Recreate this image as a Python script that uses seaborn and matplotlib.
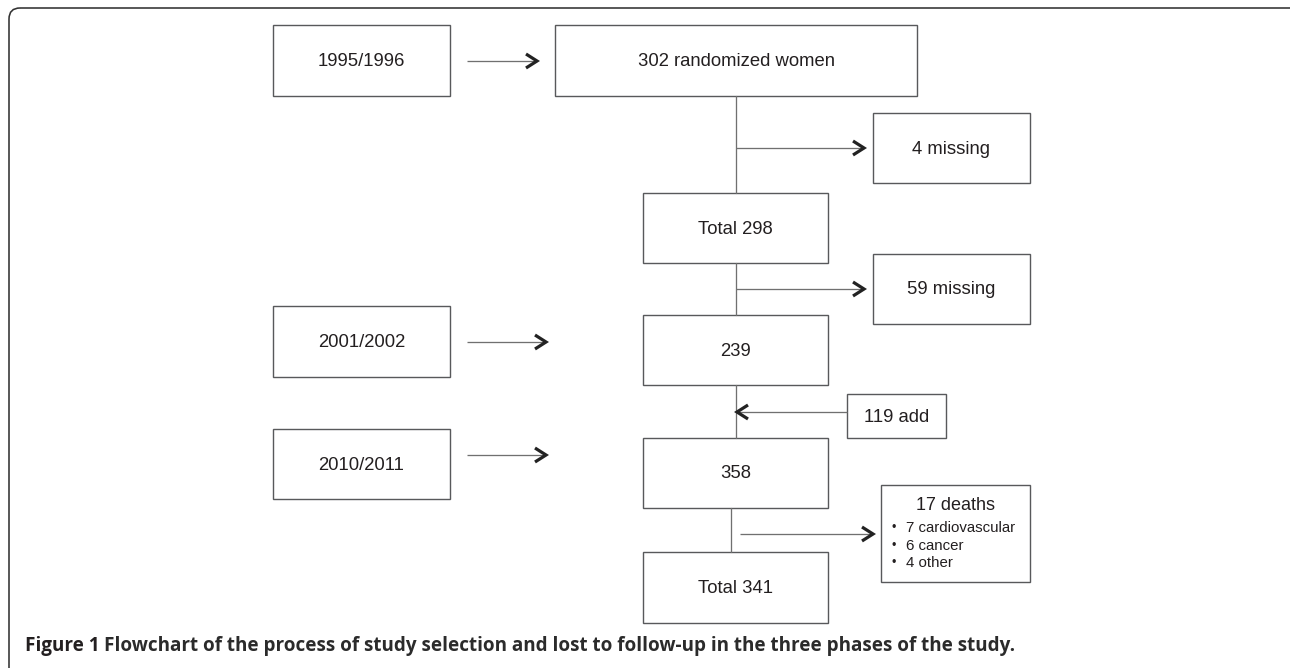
import matplotlib

matplotlib.use("Agg")
import matplotlib.pyplot as plt
import seaborn as sns
from matplotlib.patches import FancyBboxPatch, Rectangle

sns.set_theme(style="white", context="paper")
plt.rcParams["font.family"] = ["Liberation Sans", "DejaVu Sans"]

# chart content
phases = ["1995/1996", "2001/2002", "2010/2011"]
cohort = ["302 randomized women", "Total 298", "239", "358", "Total 341"]
side_notes = ["4 missing", "59 missing", "119 add"]
deaths_total = 17
death_causes = ["cardiovascular", "cancer", "other"]
death_counts = [7, 6, 4]
caption_label = "Figure 1"
caption_text = ("Flowchart of the process of study selection and lost to follow-up "
                "in the three phases of the study.")

# layout in pixel units (x0, y0, x1, y1)
phase_boxes = [(273, 25, 450, 96), (273, 306, 450, 377), (273, 429, 450, 499)]
cohort_boxes = [(555, 25, 917, 96), (643, 193, 828, 263), (643, 315, 828, 385),
                (643, 438, 828, 508), (643, 552, 828, 623)]
note_boxes = [(873, 113, 1030, 183), (873, 254, 1030, 324), (847, 394, 946, 438)]
death_box = (881, 485, 1030, 582)

TEXT = "#231f20"
EDGE = "#58595b"
LINE = "#707070"

fig, ax = plt.subplots(figsize=(12.9, 6.68), dpi=100)
fig.subplots_adjust(0, 0, 1, 1)
ax.set_xlim(0, 1290)
ax.set_ylim(668, 0)
ax.axis("off")

px = 0.72  # one pixel in points

frame = FancyBboxPatch((9, 8), 1300, 672, boxstyle="round,pad=0,rounding_size=11",
                       fill=False, ec="#333333", lw=1.6 * px, clip_on=True)
ax.add_patch(frame)


def box(b, label=None, size=13.3):
    x0, y0, x1, y1 = b
    ax.add_patch(Rectangle((x0, y0), x1 - x0, y1 - y0, fill=False, ec=EDGE, lw=1.4 * px))
    if label is not None:
        ax.text((x0 + x1) / 2, (y0 + y1) / 2 + 1, label, ha="center", va="center",
                fontsize=size, color=TEXT)


def arrow(x0, x1, y):
    ax.plot([x0, x1], [y, y], color=LINE, lw=1.3 * px, solid_capstyle="butt")
    d = 1 if x1 > x0 else -1
    ax.plot([x1 - d * 11, x1, x1 - d * 11], [y - 7, y, y + 7], color="#222222",
            lw=3.2 * px, solid_joinstyle="miter", solid_capstyle="butt")


def vline(x, y0, y1):
    ax.plot([x, x], [y0, y1], color=LINE, lw=1.3 * px)


for b, label in zip(phase_boxes, phases):
    box(b, label)
for b, label in zip(cohort_boxes, cohort):
    box(b, label)
for b, label in zip(note_boxes, side_notes):
    box(b, label)

# phase arrows
arrow(467, 537, 61)
arrow(467, 546, 342)
arrow(467, 546, 455)

# main flow
vline(736, 96, 193)
arrow(736, 864, 148)
vline(736, 263, 315)
arrow(736, 864, 289)
vline(736, 385, 438)
arrow(847, 737, 412)
vline(731, 508, 552)
arrow(740, 873, 534)

# deaths box
box(death_box)
cx = (death_box[0] + death_box[2]) / 2
ax.text(cx, 506, f"{deaths_total} deaths", ha="center", va="center", fontsize=13, color=TEXT)
for i, (n, cause) in enumerate(zip(death_counts, death_causes)):
    y = 528 + i * 17.5
    ax.text(894, y, "\u2022", ha="center", va="center", fontsize=9, color=TEXT)
    ax.text(906, y, f"{n} {cause}", ha="left", va="center", fontsize=10.8, color=TEXT)

# caption, fitted to the reference width
cap = ax.text(25, 651, f"{caption_label} ", ha="left", va="baseline", fontsize=11.5,
              fontweight="bold", color=TEXT, family=["Open Sans", "DejaVu Sans"])
rest = ax.text(0, 651, caption_text, ha="left", va="baseline", fontsize=11.5,
               fontweight="bold", color="#2b2b2b", family=["Open Sans", "DejaVu Sans"])
fig.canvas.draw()
r = fig.canvas.get_renderer()
w1 = cap.get_window_extent(r).width
w2 = rest.get_window_extent(r).width
scale = (1018 - 25) / (w1 + w2)
cap.set_fontsize(11.5 * scale)
rest.set_fontsize(11.5 * scale)
rest.set_x(25 + w1 * scale)

fig.savefig("out.png", dpi=100)
